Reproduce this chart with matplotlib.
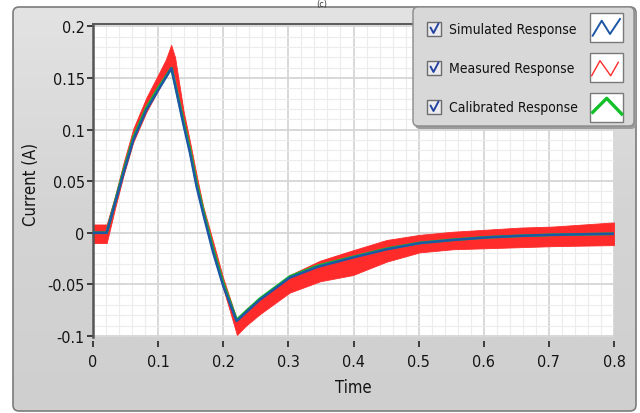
import numpy as np
import matplotlib
matplotlib.use("Agg")
import matplotlib.pyplot as plt
import matplotlib.font_manager as fm
from matplotlib.patches import FancyBboxPatch, Rectangle
from matplotlib.colors import LinearSegmentedColormap
from matplotlib.ticker import MultipleLocator, FixedLocator, FixedFormatter

# ---------------- data ----------------
t_sim = [0, 0.021, 0.034, 0.047, 0.062, 0.082, 0.100, 0.1205, 0.1385, 0.149, 0.159,
         0.169, 0.1846, 0.200, 0.2205, 0.256, 0.302, 0.345, 0.399, 0.451, 0.502,
         0.553, 0.605, 0.656, 0.706, 0.8]
sim = [0, 0, 0.029, 0.058, 0.090, 0.119, 0.138, 0.1594, 0.106, 0.077, 0.045,
       0.019, -0.0194, -0.0516, -0.0855, -0.065, -0.0435, -0.033, -0.024, -0.016, -0.010,
       -0.007, -0.0045, -0.003, -0.002, -0.001]

t_cal = [0, 0.021, 0.034, 0.047, 0.062, 0.082, 0.100, 0.1205, 0.1385, 0.149, 0.159,
         0.169, 0.1846, 0.200, 0.2205, 0.256, 0.302, 0.345, 0.399, 0.451, 0.502,
         0.553, 0.605, 0.656, 0.706, 0.8]
cal = [0, 0, 0.030, 0.060, 0.092, 0.121, 0.140, 0.1594, 0.109, 0.080, 0.048,
       0.022, -0.0165, -0.049, -0.0845, -0.064, -0.0425, -0.032, -0.0235, -0.0155, -0.0098,
       -0.0068, -0.0044, -0.003, -0.002, -0.001]

t_meas = [0, 0.021, 0.034, 0.047, 0.062, 0.082, 0.100, 0.112, 0.120, 0.126, 0.139,
          0.149, 0.159, 0.169, 0.185, 0.200, 0.221, 0.235, 0.256, 0.302, 0.349,
          0.399, 0.451, 0.502, 0.553, 0.605, 0.656, 0.706, 0.8]
meas_hi = [0.008, 0.008, 0.036, 0.068, 0.101, 0.131, 0.153, 0.168, 0.182, 0.170, 0.118,
           0.088, 0.056, 0.026, -0.010, -0.044, -0.084, -0.074, -0.063, -0.041, -0.027,
           -0.017, -0.007, -0.002, 0.001, 0.003, 0.005, 0.006, 0.010]
meas_lo = [-0.010, -0.010, 0.024, 0.056, 0.088, 0.117, 0.138, 0.152, 0.162, 0.150, 0.106,
           0.076, 0.045, 0.016, -0.020, -0.054, -0.099, -0.090, -0.079, -0.058, -0.047,
           -0.041, -0.028, -0.019, -0.016, -0.015, -0.014, -0.013, -0.012]

x_ticks = [0, 0.1, 0.2, 0.3, 0.4, 0.5, 0.6, 0.7, 0.8]
x_tick_labels = ["0", "0.1", "0.2", "0.3", "0.4", "0.5", "0.6", "0.7", "0.8"]
y_ticks = [-0.1, -0.05, 0, 0.05, 0.1, 0.15, 0.2]
y_tick_labels = ["-0.1", "-0.05", "0", "0.05", "0.1", "0.15", "0.2"]
legend_labels = ["Simulated Response", "Measured Response", "Calibrated Response"]

C_SIM = "#1d58a6"
C_MEAS = "#ff2a2a"
C_CAL = "#13c02a"

# ---------------- fonts ----------------
names = {f.name for f in fm.fontManager.ttflist}
if "Liberation Sans Narrow" in names:
    FONT = {"family": "Liberation Sans Narrow"}
else:
    FONT = {"family": "DejaVu Sans", "stretch": "condensed"}

W, H = 640, 414
fig = plt.figure(figsize=(W / 100, H / 100), dpi=100)
fig.patch.set_facecolor("white")

def px(x0, y0, x1, y1):
    return [x0 / W, 1 - y1 / H, (x1 - x0) / W, (y1 - y0) / H]

# ---------------- panel background ----------------
bg = fig.add_axes([0, 0, 1, 1], zorder=0)
bg.set_xlim(0, W)
bg.set_ylim(H, 0)
bg.axis("off")
panel = FancyBboxPatch((13, 8), 623, 404, boxstyle="round,pad=0,rounding_size=6",
                       facecolor="none", edgecolor="#7c7c7c", linewidth=1.2, zorder=3)
bg.add_patch(panel)
grad = np.linspace(0, 1, 256).reshape(-1, 1)
cmap = LinearSegmentedColormap.from_list("g", ["#e3e3e3", "#d4d4d4", "#cfcfcf"])
im = bg.imshow(grad, extent=(13, 636, 412, 8), cmap=cmap, aspect="auto", zorder=1)
clipper = FancyBboxPatch((13, 8), 623, 404, boxstyle="round,pad=0,rounding_size=6",
                         facecolor="none", edgecolor="none", transform=bg.transData)
im.set_clip_path(clipper)
bg.text(322, 0.5, "(c)", ha="center", va="top", fontsize=6.5, color="#333333", **FONT)

# ---------------- main plot ----------------
ax = fig.add_axes(px(93, 25, 614, 338), zorder=1)
ax.set_facecolor("white")
ax.set_xlim(0, 0.8)
ax.set_ylim(-0.101, 0.2022)

ax.fill_between(t_meas, meas_lo, meas_hi, color=C_MEAS, linewidth=0.6,
                edgecolor=C_MEAS, zorder=2)
ax.plot(t_cal, cal, color=C_CAL, linewidth=2.0, zorder=3)
ax.plot(t_sim, sim, color=C_SIM, linewidth=1.8, zorder=4)

ax.xaxis.set_major_locator(FixedLocator(x_ticks))
ax.xaxis.set_major_formatter(FixedFormatter(x_tick_labels))
ax.yaxis.set_major_locator(FixedLocator(y_ticks))
ax.yaxis.set_major_formatter(FixedFormatter(y_tick_labels))
ax.xaxis.set_minor_locator(MultipleLocator(0.02))
ax.yaxis.set_minor_locator(MultipleLocator(0.01))
ax.grid(which="major", color="#d6d6d6", linewidth=1.3, zorder=0)
ax.grid(which="minor", color="#ececec", linewidth=0.8, zorder=0)
ax.set_axisbelow(True)

ax.spines["right"].set_visible(False)
ax.spines["bottom"].set_position(("outward", 3))
ax.spines["bottom"].set_visible(False)
ax.spines["left"].set_color("#555555")
ax.spines["left"].set_linewidth(1.8)
ax.spines["top"].set_color("#5a5a5a")
ax.spines["top"].set_linewidth(1.4)

ax.tick_params(axis="y", which="major", direction="out", length=4, width=1.3,
               color="#303030", pad=2, labelsize=11.5, labelcolor="#141414")
ax.tick_params(axis="x", which="major", direction="out", length=4.5, width=1.3,
               color="#303030", pad=5, labelsize=11.5, labelcolor="#141414")
ax.tick_params(which="minor", length=0)
for lab in ax.get_xticklabels() + ax.get_yticklabels():
    lab.set(**FONT)

ax.set_xlabel("Time", fontsize=12, color="#141414", labelpad=6, **FONT)
ax.set_ylabel("Current (A)", fontsize=12, color="#141414", **FONT)
ax.yaxis.set_label_coords(-0.102, 0.49)

# ---------------- legend (drawn in pixel coordinates) ----------------
lg = fig.add_axes([0, 0, 1, 1], zorder=2)
lg.set_xlim(0, W)
lg.set_ylim(H, 0)
lg.axis("off")
lg.patch.set_alpha(0)
lg.add_patch(FancyBboxPatch((415, 10), 221, 120, boxstyle="round,pad=0,rounding_size=5",
                            facecolor="#9c9c9c", edgecolor="none", zorder=1))
lg.add_patch(FancyBboxPatch((413, 8), 221, 119, boxstyle="round,pad=0,rounding_size=5",
                            facecolor="#d8d8d8", edgecolor="#8a8a8a", linewidth=1.0, zorder=2))

row_y = [30, 69, 108]
box_top = [14, 54, 94]
for i, (yc, label) in enumerate(zip(row_y, legend_labels)):
    lg.add_patch(Rectangle((427, yc - 7), 14, 14, facecolor="#ececf0",
                           edgecolor="#6c6c6c", linewidth=1.0, zorder=3))
    lg.plot([430.5, 433.5, 438.5], [yc - 1.5, yc + 4, yc - 5.5], color="#2443a0",
            linewidth=1.4, zorder=4, solid_capstyle="round")
    lg.text(449, yc, label, ha="left", va="center", fontsize=10, color="#111111",
            zorder=4, **FONT)
    lg.add_patch(Rectangle((590, box_top[i]), 33, 29, facecolor="white",
                           edgecolor="#7a7a7a", linewidth=1.0, zorder=3))

lg.plot([592.7, 601.7, 610, 620], [36.7, 21.7, 35, 20], color=C_SIM, linewidth=1.4, zorder=4)
lg.plot([591.7, 600, 610.7, 618.3], [76.7, 61.7, 76.7, 63.3], color=C_MEAS, linewidth=1.0, zorder=4)
lg.plot([592.7, 606.7, 621.7], [113.3, 99.3, 115], color=C_CAL, linewidth=2.4, zorder=4)

fig.savefig("out.png", dpi=100)
